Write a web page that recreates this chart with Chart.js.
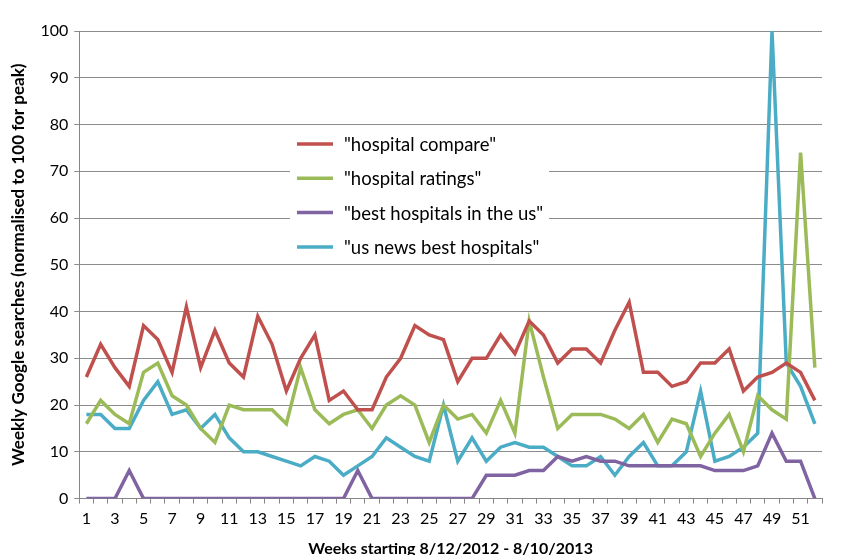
<!DOCTYPE html>
<html>
<head>
<meta charset="utf-8">
<script src="https://cdn.jsdelivr.net/npm/chart.js@4"></script>
<style>
  body { margin: 0; background: #fff; }
  #wrap { width: 844px; height: 555px; position: relative; }
</style>
</head>
<body>
<div id="wrap"><canvas id="searches"></canvas></div>
<script>
const weeks = ["1","2","3","4","5","6","7","8","9","10","11","12","13","14","15","16","17","18","19","20",
    "21","22","23","24","25","26","27","28","29","30","31","32","33","34","35","36","37","38","39","40",
    "41","42","43","44","45","46","47","48","49","50","51","52"];

const hospitalCompare = [26,33,28,24,37,34,27,41,28,36,29,26,39,33,23,30,35,
    21,23,19,19,26,30,37,35,34,25,30,30,35,31,38,35,29,
    32,32,29,36,42,27,27,24,25,29,29,32,23,26,27,29,27,21];
const hospitalRatings = [16,21,18,16,27,29,22,20,15,12,20,19,19,19,16,28,19,
    16,18,19,15,20,22,20,12,20,17,18,14,21,14,38,26,15,
    18,18,18,17,15,18,12,17,16,9,14,18,10,22,19,17,74,28];
const bestHospitalsUs = [0,0,0,6,0,0,0,0,0,0,0,0,0,0,0,0,0,
    0,0,6,0,0,0,0,0,0,0,0,5,5,5,6,6,9,
    8,9,8,8,7,7,7,7,7,7,6,6,6,7,14,8,8,0];
const usNewsBest = [18,18,15,15,21,25,18,19,15,18,13,10,10,9,8,7,9,
    8,5,7,9,13,11,9,8,20,8,13,8,11,12,11,11,9,
    7,7,9,5,9,12,7,7,10,23,8,9,11,14,100,29,24,16];

const seriesNames = ['"hospital compare"', '"hospital ratings"', '"best hospitals in the us"', '"us news best hospitals"'];
const seriesColors = ['#C0504D', '#9BBB59', '#8064A2', '#4BACC6'];
const seriesValues = [hospitalCompare, hospitalRatings, bestHospitalsUs, usNewsBest];

const FONT = 'Lato, "Open Sans", sans-serif';

// legend box sitting inside the plot, white background over the grid
const boxLegend = {
    id: 'boxLegend',
    afterDatasetsDraw(chart) {
        const ctx = chart.ctx;
        const x = 290, y = 126, w = 259, h = 137;
        ctx.save();
        ctx.fillStyle = '#fff';
        ctx.fillRect(x, y, w, h);
        ctx.font = '18.5px ' + FONT;
        ctx.textBaseline = 'middle';
        chart.data.datasets.forEach((ds, i) => {
            const cy = 144 + i * 34.3;
            ctx.strokeStyle = ds.borderColor;
            ctx.lineWidth = 3.5;
            ctx.beginPath();
            ctx.moveTo(297, cy);
            ctx.lineTo(333, cy);
            ctx.stroke();
            ctx.fillStyle = '#000';
            ctx.fillText(ds.label, 344, cy + 1);
        });
        ctx.restore();
    }
};

const searchesChart = new Chart(document.getElementById('searches').getContext('2d'), {
    type: 'line',
    data: {
        labels: weeks,
        datasets: seriesNames.map((name, i) => ({
            label: name,
            data: seriesValues[i],
            borderColor: seriesColors[i],
            backgroundColor: seriesColors[i],
            borderWidth: 3.5,
            pointRadius: 0,
            tension: 0,
            fill: false
        }))
    },
    options: {
        responsive: true,
        maintainAspectRatio: false,
        animation: false,
        layout: {
            padding: { left: 8, right: 22, top: 31, bottom: -3 }
        },
        scales: {
            x: {
                offset: true,
                grid: { drawOnChartArea: false, drawTicks: true, tickLength: 5, color: '#868686', offset: true },
                border: { color: '#868686', width: 1 },
                ticks: {
                    autoSkip: false,
                    maxRotation: 0,
                    color: '#000',
                    font: { family: FONT, size: 16 },
                    padding: 6,
                    callback: function (value, index) {
                        return index % 2 === 0 ? this.getLabelForValue(value) : '';
                    }
                },
                title: {
                    display: true,
                    text: 'Weeks starting 8/12/2012 - 8/10/2013',
                    color: '#000',
                    font: { family: FONT, size: 16, weight: 'bold' },
                    padding: { top: 4, bottom: 0 }
                }
            },
            y: {
                min: 0,
                max: 100,
                ticks: {
                    stepSize: 10,
                    color: '#000',
                    font: { family: FONT, size: 16 },
                    padding: 6
                },
                grid: { color: '#8c8c8c', tickLength: 5, lineWidth: 1 },
                border: { color: '#868686', width: 1 },
                title: {
                    display: true,
                    text: 'Weekly Google searches (normalised to 100 for peak)',
                    color: '#000',
                    font: { family: FONT, size: 17, weight: 'bold' },
                    padding: { top: 0, bottom: 6 }
                }
            }
        },
        plugins: {
            legend: { display: false },
            tooltip: { enabled: false }
        }
    },
    plugins: [boxLegend]
});
</script>
</body>
</html>
